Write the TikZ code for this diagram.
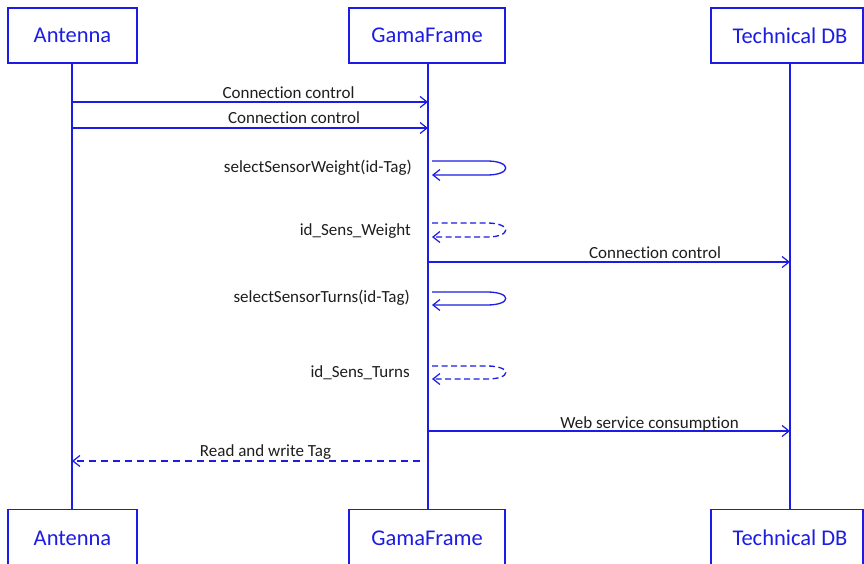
\documentclass[tikz,border=0pt]{standalone}
\usepackage{fontspec}
\setmainfont{Carlito}[Ligatures={NoCommon}]
\usetikzlibrary{arrows.meta}
\definecolor{seqblue}{RGB}{28,28,228}
\definecolor{labelgray}{RGB}{30,30,30}
\tikzset{
  actor/.style={draw=seqblue, line width=1.2pt, fill=white, text=seqblue,
    font=\fontsize{22.5}{26}\selectfont, inner sep=0pt},
  lifeline/.style={draw=seqblue, line width=1.3pt},
  msg/.style={draw=seqblue, line width=1.3pt, -{Straight Barb[length=7pt,width=11pt,line width=1.2pt]}},
  reply/.style={msg, dash pattern=on 7pt off 5pt},
  msglabel/.style={text=labelgray, font=\fontsize{17}{20}\selectfont, inner sep=0pt},
}
\begin{document}
\begin{tikzpicture}[x=1pt,y=-1pt]
\useasboundingbox (0,0) rectangle (864,564);
\clip (0,0) rectangle (864,564);
\fill[white] (0,0) rectangle (864,564);

% participants, top and bottom
\node[actor, minimum width=129pt, minimum height=55pt] (antT) at (72.5,35.5) {Antenna};
\node[actor, minimum width=156pt, minimum height=55pt] (gamT) at (427,35.5) {GamaFrame};
\node[actor, minimum width=152pt, minimum height=55pt] (dbT)  at (787,35.5) {\hspace*{6pt}Technical DB};

% lifelines
\coordinate (antL) at (72,63);
\coordinate (gamL) at (428,63);
\coordinate (dbL)  at (790,63);
\coordinate (antE) at (72,509);
\coordinate (gamE) at (428,509);
\coordinate (dbE)  at (790,509);
\draw[lifeline] (antL) -- (antE);
\draw[lifeline] (gamL) -- (gamE);
\draw[lifeline] (dbL) -- (dbE);

\node[actor, minimum width=129pt, minimum height=57pt, anchor=north] (antB) at (72.5,509) {Antenna};
\node[actor, minimum width=156pt, minimum height=57pt, anchor=north] (gamB) at (427,509) {GamaFrame};
\node[actor, minimum width=152pt, minimum height=57pt, anchor=north] (dbB)  at (787,509) {\hspace*{6pt}Technical DB};

% message end points on the lifelines
\coordinate (a1) at (72,102);  \coordinate (g1) at (428,102);
\coordinate (a2) at (72,128);  \coordinate (g2) at (428,128);
\coordinate (g3) at (428,262); \coordinate (d3) at (790,262);
\coordinate (g4) at (428,431); \coordinate (d4) at (790,431);
\coordinate (g5) at (420,461); \coordinate (a5) at (72,461);

% synchronous messages
\draw[msg] (a1) -- (g1);
\node[msglabel] (l1) at (288.5,93) {Connection control};
\draw[msg] (a2) -- (g2);
\node[msglabel] (l2) at (294,118) {Connection control};
\draw[msg] (g3) -- (d3);
\node[msglabel] (l3) at (655,253) {Connection control};
\draw[msg] (g4) -- (d4);
\node[msglabel] (l4) at (649.5,424) {Web service consumption};

% reply to the antenna
\draw[reply] (g5) -- (a5);
\node[msglabel] (l5) at (265.5,452) {Read and write Tag};

% self calls on GamaFrame
\coordinate (s1a) at (432,161); \coordinate (s1b) at (432,175);
\draw[msg] (s1a) -- (487,161) .. controls (512,161) and (512,175) .. (487,175) -- (s1b);
\node[msglabel, anchor=east] (l6) at (412,168) {selectSensorWeight(id-Tag)};

\coordinate (s2a) at (432,223); \coordinate (s2b) at (432,237);
\draw[reply, dash pattern=on 6pt off 3.5pt] (s2a) -- (487,223) .. controls (512,223) and (512,237) .. (487,237) -- (s2b);
\node[msglabel, anchor=east] (l7) at (411,231) {id\_Sens\_Weight};

\coordinate (s3a) at (432,292); \coordinate (s3b) at (432,305);
\draw[msg] (s3a) -- (487,292) .. controls (512,292) and (512,305) .. (487,305) -- (s3b);
\node[msglabel, anchor=east] (l8) at (410,298) {selectSensorTurns(id-Tag)};

\coordinate (s4a) at (432,366); \coordinate (s4b) at (432,379);
\draw[reply, dash pattern=on 6pt off 3.5pt] (s4a) -- (487,366) .. controls (512,366) and (512,379) .. (487,379) -- (s4b);
\node[msglabel, anchor=east] (l9) at (410,373) {id\_Sens\_Turns};
\end{tikzpicture}
\end{document}
